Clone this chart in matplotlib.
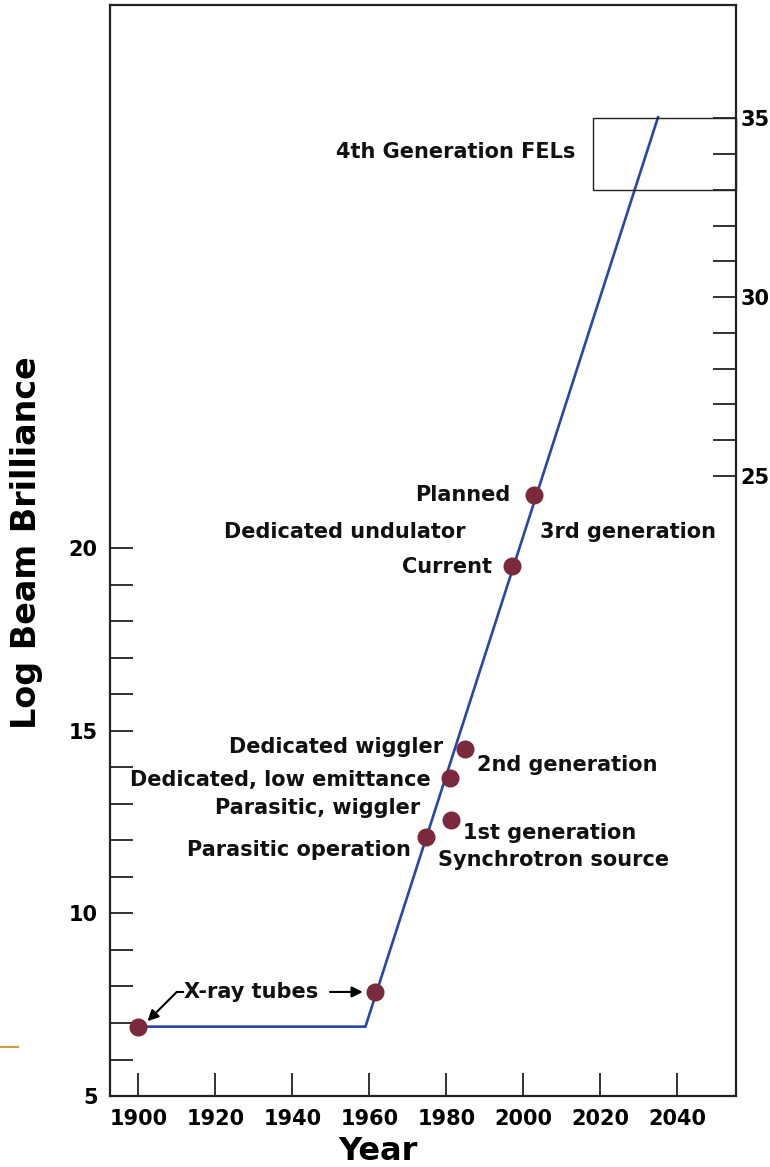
import matplotlib
matplotlib.use("Agg")
import matplotlib.pyplot as plt
from matplotlib.patches import Rectangle

plt.rcParams['font.family'] = ['DejaVu Sans']
plt.rcParams['font.weight'] = 'bold'

# Krzywa jasnosci wiazki (rok, log)
line_years = [1900, 1959, 2035]
line_values = [6.9, 6.9, 31.8]

# Punkty zrodel
point_years = [1900, 1961.5, 1974.7, 1981.3, 1980.9, 1984.8, 1997.1, 2002.8]
point_values = [6.9, 7.85, 12.1, 12.55, 13.7, 14.5, 19.5, 21.45]

# Osie
x_ticks = [1900, 1920, 1940, 1960, 1980, 2000, 2020, 2040]
left_major = [5, 10, 15, 20]
left_minor = [v for v in range(6, 20) if v not in left_major]
right_major = [25, 30, 35]
right_minor = [v for v in range(26, 35) if v not in right_major]

# Ramka dla FEL (rok poczatku, zakres na prawej osi)
fel_box_year = 2018
fel_box_range = [33, 35]

# Opisy: tekst, rok, wartosc
labels_right_aligned = [
    ("4th Generation FELs", 2013.5, 30.84),
    ("Planned", 1996.6, 21.45),
    ("Dedicated undulator", 1984.9, 20.44),
    ("Current", 1991.9, 19.48),
    ("Dedicated wiggler", 1979.2, 14.55),
    ("Dedicated, low emittance", 1976.0, 13.65),
    ("Parasitic, wiggler", 1973.2, 12.88),
    ("Parasitic operation", 1970.8, 11.73),
]
labels_left_aligned = [
    ("3rd generation", 2004.4, 20.44),
    ("2nd generation", 1988.0, 14.06),
    ("1st generation", 1984.4, 12.20),
    ("Synchrotron source", 1977.9, 11.46),
]

fig = plt.figure(figsize=(7.7, 11.67), dpi=100)
ax = fig.add_axes([0.1429, 0.0608, 0.8130, 0.9349])
ax.set_xlim(1892.66, 2055.26)
ax.set_ylim(5, 34.87)

ax.plot(line_years, line_values, color='#2a45a8', lw=1.9, zorder=2)
ax.plot(point_years, point_values, 'o', color='#7a2a3c', markersize=13,
        markeredgewidth=0, zorder=3)

fs = 15
for txt, x, y in labels_right_aligned:
    ax.text(x, y, txt, ha='right', va='center', fontsize=fs, color='#111111')
for txt, x, y in labels_left_aligned:
    ax.text(x, y, txt, ha='left', va='center', fontsize=fs, color='#111111')

# X-ray tubes ze strzalkami
ax.text(1911.8, 7.85, "X-ray tubes", ha='left', va='center', fontsize=fs, color='#111111')
ax.annotate('', xy=(1958.3, 7.85), xytext=(1949.8, 7.85),
            arrowprops=dict(arrowstyle='-|>', color='black', lw=1.5,
                            mutation_scale=16, shrinkA=0, shrinkB=0))
ax.plot([1910.0, 1911.5], [7.85, 7.85], color='black', lw=1.5)
ax.annotate('', xy=(1902.4, 7.05), xytext=(1910.0, 7.85),
            arrowprops=dict(arrowstyle='-|>', color='black', lw=1.5,
                            mutation_scale=16, shrinkA=0, shrinkB=0))

# Osie i podzialki
ax.set_xticks(x_ticks)
ax.set_xticklabels([str(v) for v in x_ticks])
ax.set_yticks(left_major)
ax.set_yticks(left_minor, minor=True)
ax.tick_params(axis='both', which='both', direction='in', length=16.5,
               width=1.3, color='#222222', labelsize=fs, right=False, top=False)
ax.tick_params(axis='x', pad=9)
ax.tick_params(axis='y', pad=9)
for s in ax.spines.values():
    s.set_linewidth(1.6)
    s.set_color('#222222')

ax2 = ax.twinx()
ax2.set_ylim(7.68, 38.16)
ax2.set_yticks(right_major)
ax2.set_yticks(right_minor, minor=True)
ax2.tick_params(axis='y', which='both', direction='in', length=16.5,
                width=1.3, color='#222222', labelsize=fs, pad=3)
for s in ax2.spines.values():
    s.set_visible(False)

ax2.add_patch(Rectangle((fel_box_year, fel_box_range[0]), 2055.26 - fel_box_year,
                        fel_box_range[1] - fel_box_range[0], fill=False,
                        edgecolor='#222222', lw=1.0, clip_on=False))

fig.text(27 / 770, 1 - 543 / 1167, "Log Beam Brilliance", rotation=90,
         ha='center', va='center', fontsize=24)
fig.text(378 / 770, 1 - 1152 / 1167, "Year", ha='center', va='center', fontsize=23)

# ozdobna kreska z lewej (slajd)
fig.add_artist(plt.Line2D([0, 18 / 770], [1 - 1047 / 1167] * 2, color='#c9a23a', lw=1.5))

fig.savefig("out.png", dpi=100)
